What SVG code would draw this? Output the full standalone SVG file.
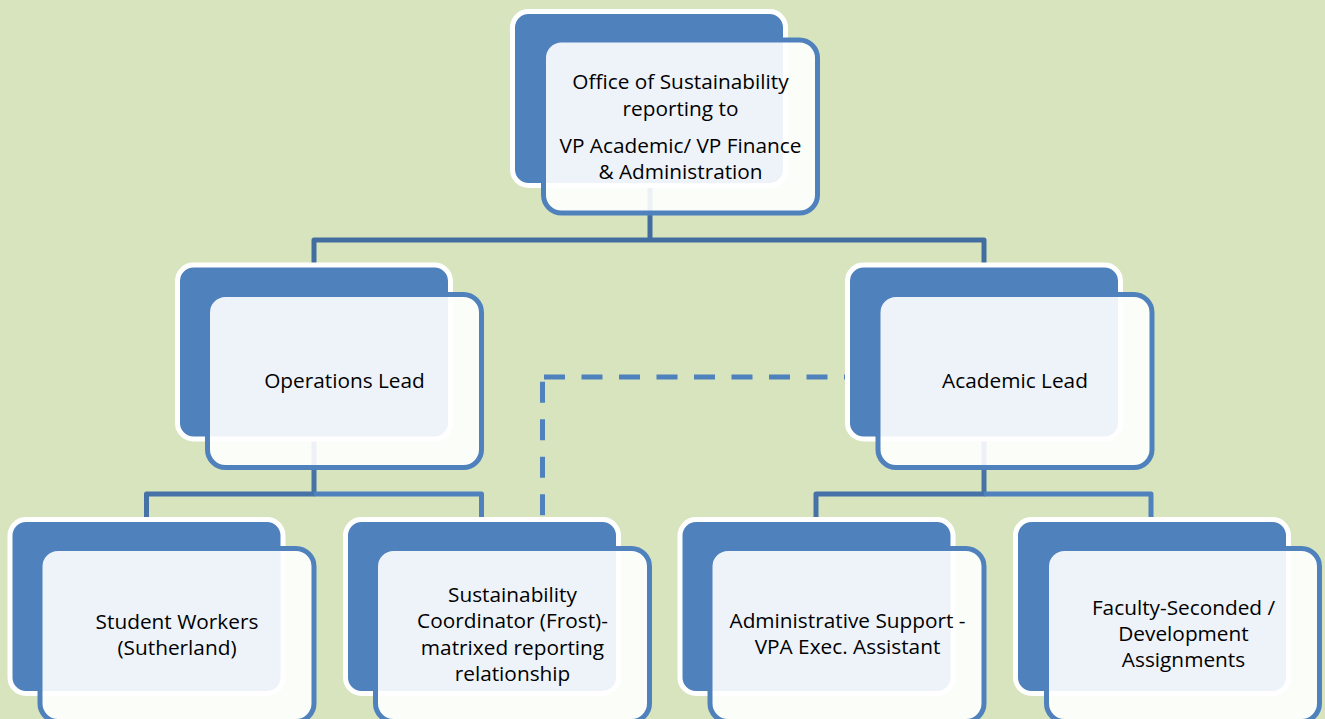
<svg xmlns="http://www.w3.org/2000/svg" width="1325" height="719" viewBox="0 0 1325 719">
<style>
.back{fill:#4F81BD;stroke:#FFFFFF;stroke-width:5}
.front{fill:#FFFFFF;fill-opacity:0.9;stroke:#4F81BD;stroke-width:5}
.t{font-family:"Open Sans",Lato,sans-serif;font-size:20.8px;fill:#000000;text-anchor:middle}
.c{fill:none;stroke-width:5;stroke-linejoin:round;stroke-linecap:butt}
.c1{stroke:#416E9F}
.c2{stroke:#4672A8}
.c3{stroke:#4F81BD}
.d{fill:none;stroke:#4F81BD;stroke-width:5;stroke-dasharray:21 16.5}
</style>
<rect width="1325" height="719" fill="#D7E4BD"/>
<g id="connectors">
<path class="c c1" d="M650,185 V240 M314,267 V240 H984 V267"/>
<path class="c c2" d="M314,436 V494 H146.5 V520"/>
<path class="c c3" d="M314,494 H481.5 V520"/>
<path class="c c2" d="M984,436 V494 H816 V520"/>
<path class="c c3" d="M984,494 H1151 V520"/>
<path class="d" d="M544,377 H860"/>
<path class="d" d="M542.5,381.7 V520"/>
</g>
<g id="office">
<rect class="back" x="512.5" y="11.5" width="273" height="174" rx="16"/>
<rect class="front" x="543.5" y="40" width="274" height="173" rx="18"/>
<text class="t" x="680.5" y="89">Office of Sustainability</text>
<text class="t" x="680.5" y="115.5">reporting to</text>
<text class="t" x="680.5" y="152.5">VP Academic/ VP Finance</text>
<text class="t" x="680.5" y="179">&amp; Administration</text>
</g>
<g id="operations">
<rect class="back" x="177.5" y="265" width="273" height="174" rx="16"/>
<rect class="front" x="207.5" y="294.5" width="274" height="173" rx="18"/>
<text class="t" x="344.5" y="388">Operations Lead</text>
</g>
<g id="academic">
<rect class="back" x="847.5" y="265" width="273" height="174" rx="16"/>
<rect class="front" x="878" y="294.5" width="274" height="173" rx="18"/>
<text class="t" x="1015" y="388">Academic Lead</text>
</g>
<g id="students">
<rect class="back" x="10" y="519.5" width="273" height="174" rx="16"/>
<rect class="front" x="40" y="548.5" width="274" height="173" rx="18"/>
<text class="t" x="177" y="629">Student Workers</text>
<text class="t" x="177" y="655">(Sutherland)</text>
</g>
<g id="coordinator">
<rect class="back" x="345.5" y="519.5" width="273" height="174" rx="16"/>
<rect class="front" x="375.5" y="548.5" width="274" height="173" rx="18"/>
<text class="t" x="512.5" y="602">Sustainability</text>
<text class="t" x="512.5" y="628">Coordinator (Frost)-</text>
<text class="t" x="512.5" y="655">matrixed reporting</text>
<text class="t" x="512.5" y="681">relationship</text>
</g>
<g id="admin">
<rect class="back" x="680" y="519.5" width="273" height="174" rx="16"/>
<rect class="front" x="710" y="548.5" width="274" height="173" rx="18"/>
<text class="t" x="847.5" y="628">Administrative Support -</text>
<text class="t" x="847.5" y="654">VPA Exec. Assistant</text>
</g>
<g id="faculty">
<rect class="back" x="1015.5" y="519.5" width="273" height="174" rx="16"/>
<rect class="front" x="1046.5" y="548.5" width="273" height="173" rx="18"/>
<text class="t" x="1183.5" y="615">Faculty-Seconded /</text>
<text class="t" x="1183.5" y="641">Development</text>
<text class="t" x="1183.5" y="667">Assignments</text>
</g>
</svg>
